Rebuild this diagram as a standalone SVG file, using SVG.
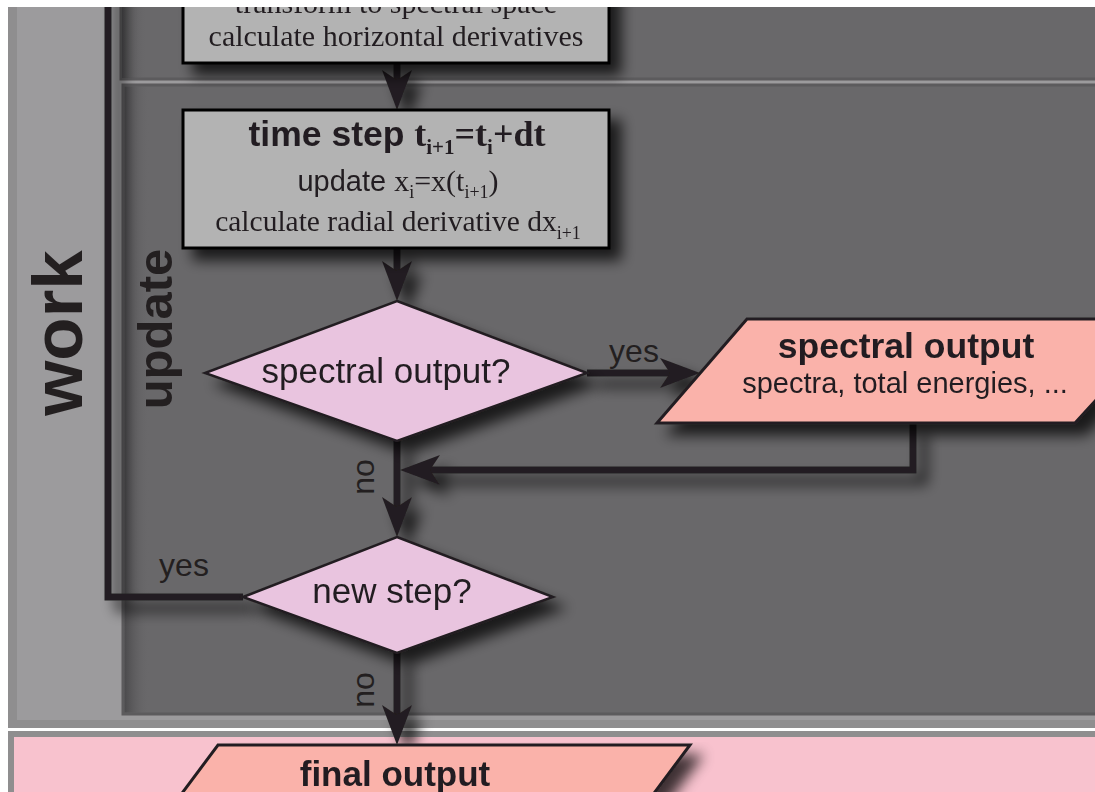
<svg xmlns="http://www.w3.org/2000/svg" width="1095" height="792" viewBox="0 0 1095 792">
<defs>
<style>
.sans{font-family:"Liberation Sans",Arial,sans-serif;fill:#231f20}
.serif{font-family:"Liberation Serif","Times New Roman",serif;fill:#231f20}
.b{font-weight:bold}
.box{fill:#b3b3b3;stroke:#000;stroke-width:3}
.dia{fill:#e9c4df;stroke:#231f20;stroke-width:2.5;stroke-linejoin:miter}
.io{fill:#fab2aa;stroke:#231f20;stroke-width:3;stroke-linejoin:miter}
.con{fill:none;stroke:#231f20;stroke-width:7;stroke-linejoin:miter}
.panel{fill:#69686a;stroke:#5c5b5d;stroke-width:3}
</style>
<linearGradient id="edge" x1="0" y1="0" x2="1" y2="0">
<stop offset="0" stop-color="#4b4a4c"/>
<stop offset="1" stop-color="#69686a" stop-opacity="0"/>
</linearGradient>
<filter id="sh" x="-20%" y="-20%" width="150%" height="150%">
<feGaussianBlur in="SourceAlpha" stdDeviation="7"/>
<feOffset dx="11" dy="11" result="o"/>
<feComponentTransfer><feFuncA type="linear" slope="0.75"/></feComponentTransfer>
<feMerge><feMergeNode/><feMergeNode in="SourceGraphic"/></feMerge>
</filter>
<marker id="arr" markerUnits="userSpaceOnUse" markerWidth="44" markerHeight="34" viewBox="-42 -17 44 34" refX="-28" refY="0" orient="auto">
<path d="M0,0 L-40,-15 L-30,0 L-40,15 Z" fill="#231f20"/>
</marker>
</defs>

<!-- work region -->
<g id="work-panel">
<rect x="8" y="-10" width="1100" height="738" fill="#8f8e8f"/>
<rect x="17" y="-10" width="1090" height="730" fill="#9c9b9d"/>
<text class="sans b" font-size="71" text-anchor="middle" transform="translate(82,333) rotate(-90)">work</text>
</g>

<g id="upper-panel">
<rect class="panel" x="121" y="-10" width="990" height="89"/>
<rect x="122" y="-10" width="25" height="88" fill="url(#edge)"/>
</g>

<g id="update-panel">
<rect class="panel" x="123" y="85" width="990" height="629"/>
<rect x="124.5" y="86.5" width="25" height="626" fill="url(#edge)"/>
<text class="sans b" font-size="49" text-anchor="middle" transform="translate(172,329) rotate(-90)">update</text>
</g>

<g id="output-region">
<rect x="8" y="729" width="1100" height="2" fill="#ffffff"/>
<rect x="8" y="731" width="1100" height="70" fill="#8f8e8f"/>
<rect x="14" y="737" width="1090" height="60" fill="#f8c2ce"/>
</g>

<!-- connectors -->
<g id="connectors" filter="url(#sh)">
<path class="con" d="M397,63 V82" marker-end="url(#arr)"/>
<path class="con" d="M397,248 V273" marker-end="url(#arr)"/>
<path class="con" d="M587,373 H672" marker-end="url(#arr)"/>
<path class="con" d="M913,423 V470 H428" marker-end="url(#arr)"/>
<path class="con" d="M397,441 V509" marker-end="url(#arr)"/>
<path class="con" d="M243,597 H108 V-20"/>
<path class="con" d="M397,653 V717" marker-end="url(#arr)"/>
</g>

<g id="labels">
<text class="sans" font-size="32" text-anchor="middle" x="634" y="362">yes</text>
<text class="sans" font-size="32" text-anchor="middle" transform="translate(374,477) rotate(-90)">no</text>
<text class="sans" font-size="32" text-anchor="middle" x="184" y="576">yes</text>
<text class="sans" font-size="32" text-anchor="middle" transform="translate(374,690) rotate(-90)">no</text>
</g>

<g id="transform-box" filter="url(#sh)">
<rect class="box" x="183" y="-20" width="426" height="83"/>
<text class="serif" font-size="30" text-anchor="middle" x="396" y="13">transform to spectral space</text>
<text class="serif" font-size="30" text-anchor="middle" x="396" y="46">calculate horizontal derivatives</text>
</g>

<g id="time-step" filter="url(#sh)">
<rect class="box" x="183" y="110" width="426" height="138"/>
<text text-anchor="middle" x="397" y="146"><tspan class="sans b" font-size="35.5">time step </tspan><tspan class="serif b" font-size="36">t</tspan><tspan class="serif b" font-size="21" dy="8">i+1</tspan><tspan class="serif b" font-size="36" dy="-8">=t</tspan><tspan class="serif b" font-size="21" dy="8">i</tspan><tspan class="serif b" font-size="36" dy="-8">+dt</tspan></text>
<text text-anchor="middle" x="398" y="191"><tspan class="sans" font-size="29">update </tspan><tspan class="serif" font-size="30">x</tspan><tspan class="serif" font-size="18" dy="7">i</tspan><tspan class="serif" font-size="30" dy="-7">=x(t</tspan><tspan class="serif" font-size="18" dy="7">i+1</tspan><tspan class="serif" font-size="30" dy="-7">)</tspan></text>
<text text-anchor="middle" x="398" y="231"><tspan class="serif" font-size="29.5">calculate radial derivative dx</tspan><tspan class="serif" font-size="18" dy="8">i+1</tspan></text>
</g>

<g id="spectral-decision" filter="url(#sh)">
<polygon class="dia" points="397,301 587,373 397,441 205,373"/>
<text class="sans" font-size="35" text-anchor="middle" x="386" y="383">spectral output?</text>
</g>

<g id="spectral-output" filter="url(#sh)">
<polygon class="io" points="747,319 1170,319 1075,423 657,423"/>
<text class="sans b" font-size="35.5" text-anchor="middle" x="906" y="358">spectral output</text>
<text class="sans" font-size="29" text-anchor="middle" x="905" y="393">spectra, total energies, ...</text>
</g>

<g id="new-step" filter="url(#sh)">
<polygon class="dia" points="397,537 553,597 397,653 243,597"/>
<text class="sans" font-size="35" text-anchor="middle" x="392" y="603">new step?</text>
</g>

<g id="final-output" filter="url(#sh)">
<polygon class="io" points="218,745 690,745 640,812 168,812"/>
<text class="sans b" font-size="35" text-anchor="middle" x="395" y="786">final output</text>
</g>

<rect x="0" y="0" width="1095" height="7" fill="#ffffff"/>
<rect x="0" y="0" width="8" height="792" fill="#ffffff"/>
</svg>
